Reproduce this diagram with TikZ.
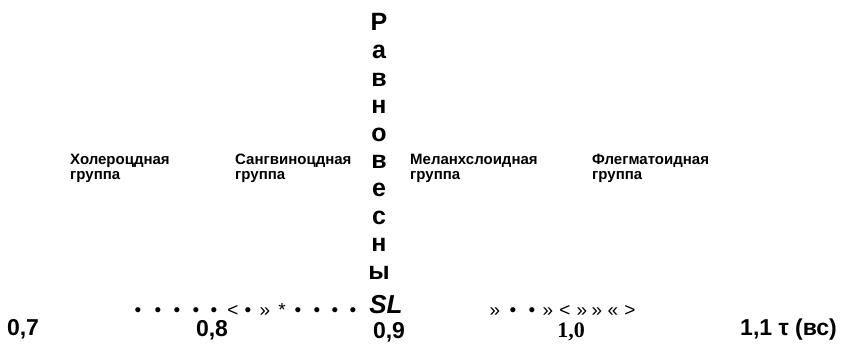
\documentclass[tikz,border=0pt]{standalone}
\usepackage{fontspec}
\setmainfont{Liberation Sans}
\newfontfamily\serifnum{Liberation Serif}
\begin{document}
\begin{tikzpicture}[x=1pt,y=-1pt,
  grp/.style={anchor=north west, align=left, inner sep=0, font=\bfseries\fontsize{15}{14.5}\selectfont},
  vletter/.style={anchor=base, inner sep=0, font=\bfseries\fontsize{25}{25}\selectfont},
  ticklab/.style={anchor=base, inner sep=0, font=\bfseries\fontsize{23}{23}\selectfont},
  glyph/.style={anchor=base, inner sep=0, font=\fontsize{19}{19}\selectfont}]
\useasboundingbox (0,0) rectangle (842,344);
% vertical word
\foreach \ch [count=\i from 0] in {Р,а,в,н,о,в,е,с,н,ы}
  \node[vletter] (v\i) at (379, 31+27.6*\i) {\ch};
\node[anchor=base, inner sep=0, font=\bfseries\itshape\fontsize{26}{26}\selectfont] (sl) at (386,313) {SL};
% group labels
\node[grp] (g1) at (70,154) {Холероцдная\\группа};
\node[grp] (g2) at (235,154) {Сангвиноцдная\\группа};
\node[grp] (g3) at (410,154) {Меланхслоидная\\группа};
\node[grp] (g4) at (592,154) {Флегматоидная\\группа};
% glyph rows
\foreach \x/\g [count=\i] in {138/•,158/•,177/•,196/•,214/•,233/<,248/•,265/»,282/*,298/•,317/•,335/•,353/•}
  \node[glyph] (l\i) at (\x,316) {\g};
\foreach \x/\g [count=\i] in {495/»,513/•,532/•,548/»,565/<,582/»,597/»,613/«,630/>}
  \node[glyph] (r\i) at (\x,316) {\g};
% axis labels
\node[ticklab] (t7) at (23,335) {0,7};
\node[ticklab] (t8) at (212,336) {0,8};
\node[ticklab] (t9) at (389,338) {0,9};
\node[ticklab, font=\serifnum\bfseries\fontsize{22}{22}\selectfont] (t10) at (571,337) {1,0};
\node[ticklab, anchor=base west] (t11) at (740,335) {1,1 τ (вс)};
\end{tikzpicture}
\end{document}
